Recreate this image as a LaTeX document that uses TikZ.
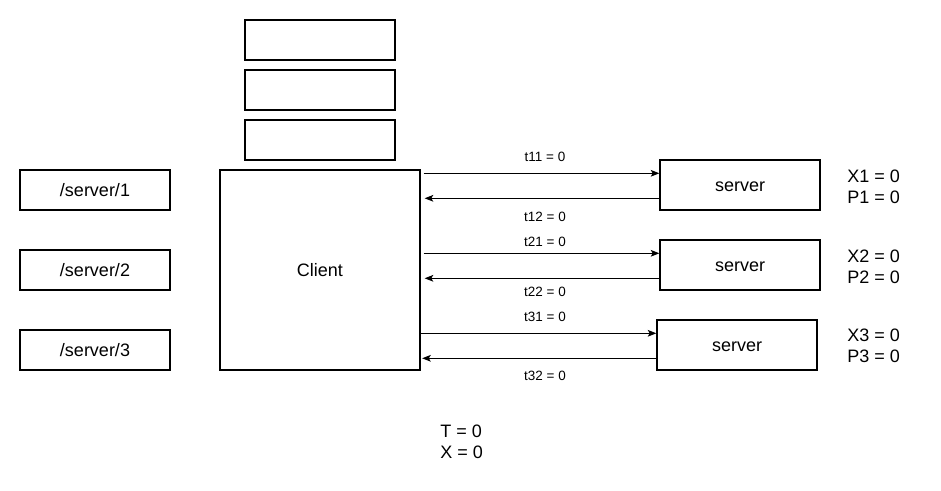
\documentclass[tikz,border=0pt]{standalone}
\usepackage{fontspec}
\setmainfont{Liberation Sans}
\usetikzlibrary{arrows.meta,calc}
\begin{document}
\begin{tikzpicture}[x=0.75pt,y=-0.75pt,
  every node/.style={font=\fontsize{13.5}{15.5}\selectfont, text=black},
  box/.style={draw, line width=0.9pt, inner sep=0pt, text height=12.5pt, text depth=2.1pt},
  listbox/.style={box, minimum width=112.5pt, minimum height=30pt},
  srvbox/.style={box, minimum width=120pt, minimum height=37.5pt},
  tlabel/.style={font=\fontsize{10.1}{12}\selectfont, inner sep=0pt},
  vals/.style={align=left, anchor=west, inner sep=0pt},
  arr/.style={-{Stealth[length=6.5pt,width=5pt,inset=1.5pt]}, line width=0.9pt}]
  \useasboundingbox (0,0) rectangle (941,491);

  % stacked empty blocks above the client
  \node[listbox] (top1) at (320,40)  {};
  \node[listbox] (top2) at (320,90)  {};
  \node[listbox] (top3) at (320,140) {};

  % server paths
  \node[listbox] (path1) at (95,190) {/server/1};
  \node[listbox] (path2) at (95,270) {/server/2};
  \node[listbox] (path3) at (95,350) {/server/3};

  % client
  \node[box, minimum width=150pt, minimum height=150pt] (client) at (320,270) {Client};

  % servers
  \node[srvbox] (s1) at (740,185) {server};
  \node[srvbox] (s2) at (740,265) {server};
  \node[srvbox] (s3) at (737,345) {server};

  % server state
  \node[vals] (v1) at (847,187) {X1 = 0\\P1 = 0};
  \node[vals] (v2) at (847,266.5) {X2 = 0\\P2 = 0};
  \node[vals] (v3) at (847,346) {X3 = 0\\P3 = 0};

  % client state
  \node[vals] (vc) at (440,442) {T = 0\\X = 0};

  % requests and responses
  \draw[arr] ($(client.east |- s1.west)+(3,-11.7)$) -- ($(s1.west)+(0,-11.7)$);
  \draw[arr] ($(s1.west)+(0,13.3)$) -- ($(client.east |- s1.west)+(4,13.3)$);
  \draw[arr] ($(client.east |- s2.west)+(3,-11.7)$) -- ($(s2.west)+(0,-11.7)$);
  \draw[arr] ($(s2.west)+(0,13.3)$) -- ($(client.east |- s2.west)+(4,13.3)$);
  \draw[arr] ($(client.east |- s3.west)+(0,-11.7)$) -- ($(s3.west)+(0,-11.7)$);
  \draw[arr] ($(s3.west)+(0,13.3)$) -- ($(client.east |- s3.west)+(1.5,13.3)$);

  % timing labels
  \node[tlabel] (t11) at (545,157) {t11 = 0};
  \node[tlabel] (t12) at (545,217) {t12 = 0};
  \node[tlabel] (t21) at (545,242) {t21 = 0};
  \node[tlabel] (t22) at (545,292) {t22 = 0};
  \node[tlabel] (t31) at (545,317) {t31 = 0};
  \node[tlabel] (t32) at (545,376) {t32 = 0};
\end{tikzpicture}
\end{document}
